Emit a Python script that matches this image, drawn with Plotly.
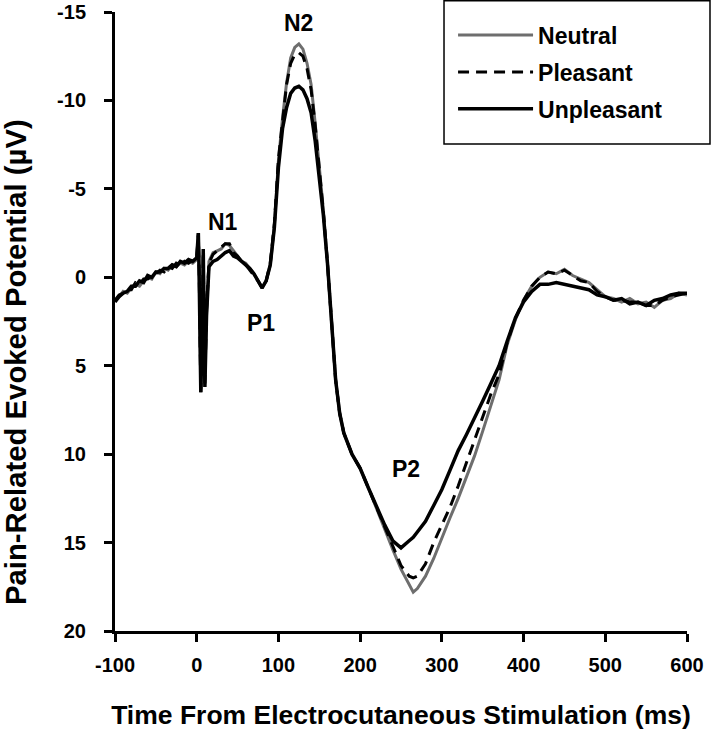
import plotly.graph_objects as go

# Time (ms)
time_ms = [-100, -95, -90, -85, -80, -75, -70, -65, -60, -55, -50, -45, -40, -35, -30, -25, -20, -15, -10, -5, 0,
           2, 3, 5, 7, 8, 10, 12,
           15, 20, 25, 30, 35, 40, 45, 50, 55, 60, 65, 70, 75, 80, 85, 90, 95, 100, 105, 110, 115, 120, 125, 130,
           135, 140, 145, 150, 155, 160, 165, 170, 175, 180,
           190, 200, 210, 220, 230, 240, 250, 260,
           265,
           270, 280, 290, 300, 310, 320, 330, 340, 350, 360, 370, 380, 390, 400, 410, 420, 430, 440, 450, 460,
           470, 480, 490, 500, 510, 520, 530, 540, 550, 560, 570, 580, 590, 600]

neutral = [1.3, 1.1, 0.8, 0.9, 0.6, 0.4, 0.5, 0.2, 0.0, 0.1, -0.3, -0.2, -0.5, -0.4, -0.7, -0.6, -0.8, -0.7, -0.9, -0.8, -1.0,
           -2.4, -0.5, 6.3, 2.5, -1.2, 5.8, 2.0,
           -0.9, -1.4, -1.5, -1.6, -1.9, -1.8, -1.5, -1.2, -0.9, -0.8, -0.5, -0.2, 0.2, 0.6, 0.2, -0.7, -2.9, -6.6,
           -9.0, -11.0, -12.4, -13.0, -13.2, -12.9, -12.1, -10.9, -8.7, -6.3, -3.8, -0.8, 2.8, 5.8, 7.7, 8.8,
           10.0, 10.8, 11.9, 13.1, 14.3, 15.4, 16.5, 17.4,
           17.8,
           17.6, 16.9, 15.9, 14.7, 13.6, 12.5, 11.3, 10.1, 8.7, 7.2, 5.8, 3.8, 2.4, 1.3, 0.5, 0.0, -0.3, -0.2, -0.45,
           -0.1, 0.1, 0.3, 0.7, 1.1, 1.2, 1.4, 1.2, 1.5, 1.4, 1.7, 1.3, 1.2, 0.9, 1.0]

pleasant = [1.3, 1.0, 0.9, 0.7, 0.7, 0.3, 0.4, 0.1, 0.1, -0.1, -0.2, -0.4, -0.3, -0.6, -0.5, -0.8, -0.7, -0.9, -0.8, -1.0, -1.1,
            -2.5, -0.3, 6.5, 2.3, -1.4, 6.0, 1.8,
            -0.8, -1.3, -1.5, -1.7, -1.9, -1.9, -1.4, -1.2, -0.9, -0.7, -0.4, -0.1, 0.2, 0.6, 0.2, -0.8, -3.0, -6.7,
            -9.0, -10.9, -12.1, -12.6, -12.7, -12.5, -11.8, -10.6, -8.6, -6.2, -3.7, -0.8, 2.8, 5.8, 7.7, 8.8,
            10.0, 10.8, 11.9, 13.0, 14.2, 15.3, 16.3, 16.9,
            17.0,
            16.9, 16.2, 15.0, 14.0, 13.0, 11.8, 10.5, 9.2, 7.9, 6.6, 5.5, 3.7, 2.3, 1.3, 0.5, 0.0, -0.3, -0.2, -0.4,
            -0.1, 0.2, 0.3, 0.8, 1.1, 1.3, 1.3, 1.4, 1.4, 1.6, 1.6, 1.3, 1.1, 1.0, 0.9]

unpleasant = [1.4, 1.1, 0.9, 0.8, 0.5, 0.5, 0.2, 0.3, -0.1, 0.0, -0.3, -0.3, -0.5, -0.5, -0.7, -0.6, -0.9, -0.8, -1.0, -0.9, -1.1,
              -2.5, 0.0, 6.5, 2.8, -1.6, 6.2, 2.2,
              -0.6, -0.9, -1.0, -1.2, -1.4, -1.5, -1.2, -1.1, -0.9, -0.7, -0.5, -0.2, 0.2, 0.6, 0.2, -0.7, -2.8, -6.2,
              -8.4, -9.6, -10.4, -10.7, -10.8, -10.6, -10.1, -9.3, -7.7, -5.8, -3.5, -0.8, 2.7, 5.8, 7.7, 8.8,
              10.0, 10.8, 11.9, 13.0, 14.0, 14.9, 15.3, 14.9,
              14.7,
              14.4, 13.8, 12.9, 12.0, 10.9, 9.8, 8.9, 8.0, 7.0, 6.0, 5.0, 3.6, 2.3, 1.4, 0.8, 0.4, 0.4, 0.3, 0.4,
              0.5, 0.6, 0.7, 1.0, 1.1, 1.3, 1.2, 1.5, 1.4, 1.6, 1.3, 1.2, 1.0, 0.9, 0.9]

x_ticks = [-100, 0, 100, 200, 300, 400, 500, 600]
y_ticks = [-15, -10, -5, 0, 5, 10, 15, 20]

peak_labels = ["N1", "P1", "N2", "P2"]
peak_x = [32, 79, 124, 256]
peak_y = [-3.1, 2.6, -14.4, 10.85]

FONT = "Arial, Liberation Sans, sans-serif"

fig = go.Figure()
fig.add_trace(go.Scatter(x=time_ms, y=neutral, mode="lines", name="Neutral", legendgroup="n",
                         line=dict(color="#6e6e6e", width=3)))
fig.add_trace(go.Scatter(x=time_ms, y=pleasant, mode="lines", name="Pleasant", legendgroup="p",
                         line=dict(color="black", width=3, dash="11px,7px")))
fig.add_trace(go.Scatter(x=time_ms, y=unpleasant, mode="lines", name="Unpleasant", legendgroup="u",
                         line=dict(color="black", width=3.5)))

for lab, xx, yy in zip(peak_labels, peak_x, peak_y):
    fig.add_annotation(x=xx, y=yy, text=lab, showarrow=False,
                       font=dict(family=FONT, size=23, color="black", weight="bold"))

# y-axis title (placed centred on the figure height, as in the original)
fig.add_annotation(xref="paper", yref="paper", x=-0.173, y=0.4346,
                   text="Pain-Related Evoked Potential (µV)", textangle=-90, showarrow=False,
                   xanchor="center", yanchor="middle",
                   font=dict(family=FONT, size=29.3, color="black", weight="bold"))

# legend frame
fig.add_shape(type="rect", xref="paper", yref="paper",
              x0=0.5752, x1=1.0402, y0=0.7868, y1=1.018,
              line=dict(color="black", width=1.5), fillcolor="rgba(0,0,0,0)", layer="above")

fig.update_layout(
    width=711, height=735,
    margin=dict(l=115, r=24, t=12, b=104, autoexpand=False),
    paper_bgcolor="white", plot_bgcolor="white",
    font=dict(family=FONT, color="black"),
    showlegend=True,
    legend=dict(x=0.591, xanchor="left", y=0.9975, yanchor="top",
                borderwidth=0, bgcolor="rgba(0,0,0,0)",
                font=dict(family=FONT, size=23, color="black", weight="bold"),
                tracegroupgap=4, itemwidth=75),
)
fig.update_xaxes(range=[-100, 600], tickvals=x_ticks, ticktext=[str(v) for v in x_ticks],
                 showline=True, linecolor="black", linewidth=3, mirror=False,
                 ticks="outside", ticklen=8, tickwidth=3, tickcolor="black",
                 ticklabelstandoff=6, ticklabeloverflow="allow",
                 showgrid=False, zeroline=False,
                 tickfont=dict(family=FONT, size=20, color="black", weight="bold"),
                 title=dict(text="Time From Electrocutaneous Stimulation (ms)", standoff=31,
                            font=dict(family=FONT, size=26.5, color="black", weight="bold")))
fig.update_yaxes(range=[20, -15], tickvals=y_ticks, ticktext=[str(v) for v in y_ticks],
                 showline=True, linecolor="black", linewidth=3,
                 ticks="outside", ticklen=8, tickwidth=3, tickcolor="black",
                 ticklabelstandoff=14, ticklabeloverflow="allow",
                 showgrid=False, zeroline=False,
                 tickfont=dict(family=FONT, size=20, color="black", weight="bold"))

fig.write_html("out.html", config={"displayModeBar": False},
               post_script="document.body.style.margin='0px';")
